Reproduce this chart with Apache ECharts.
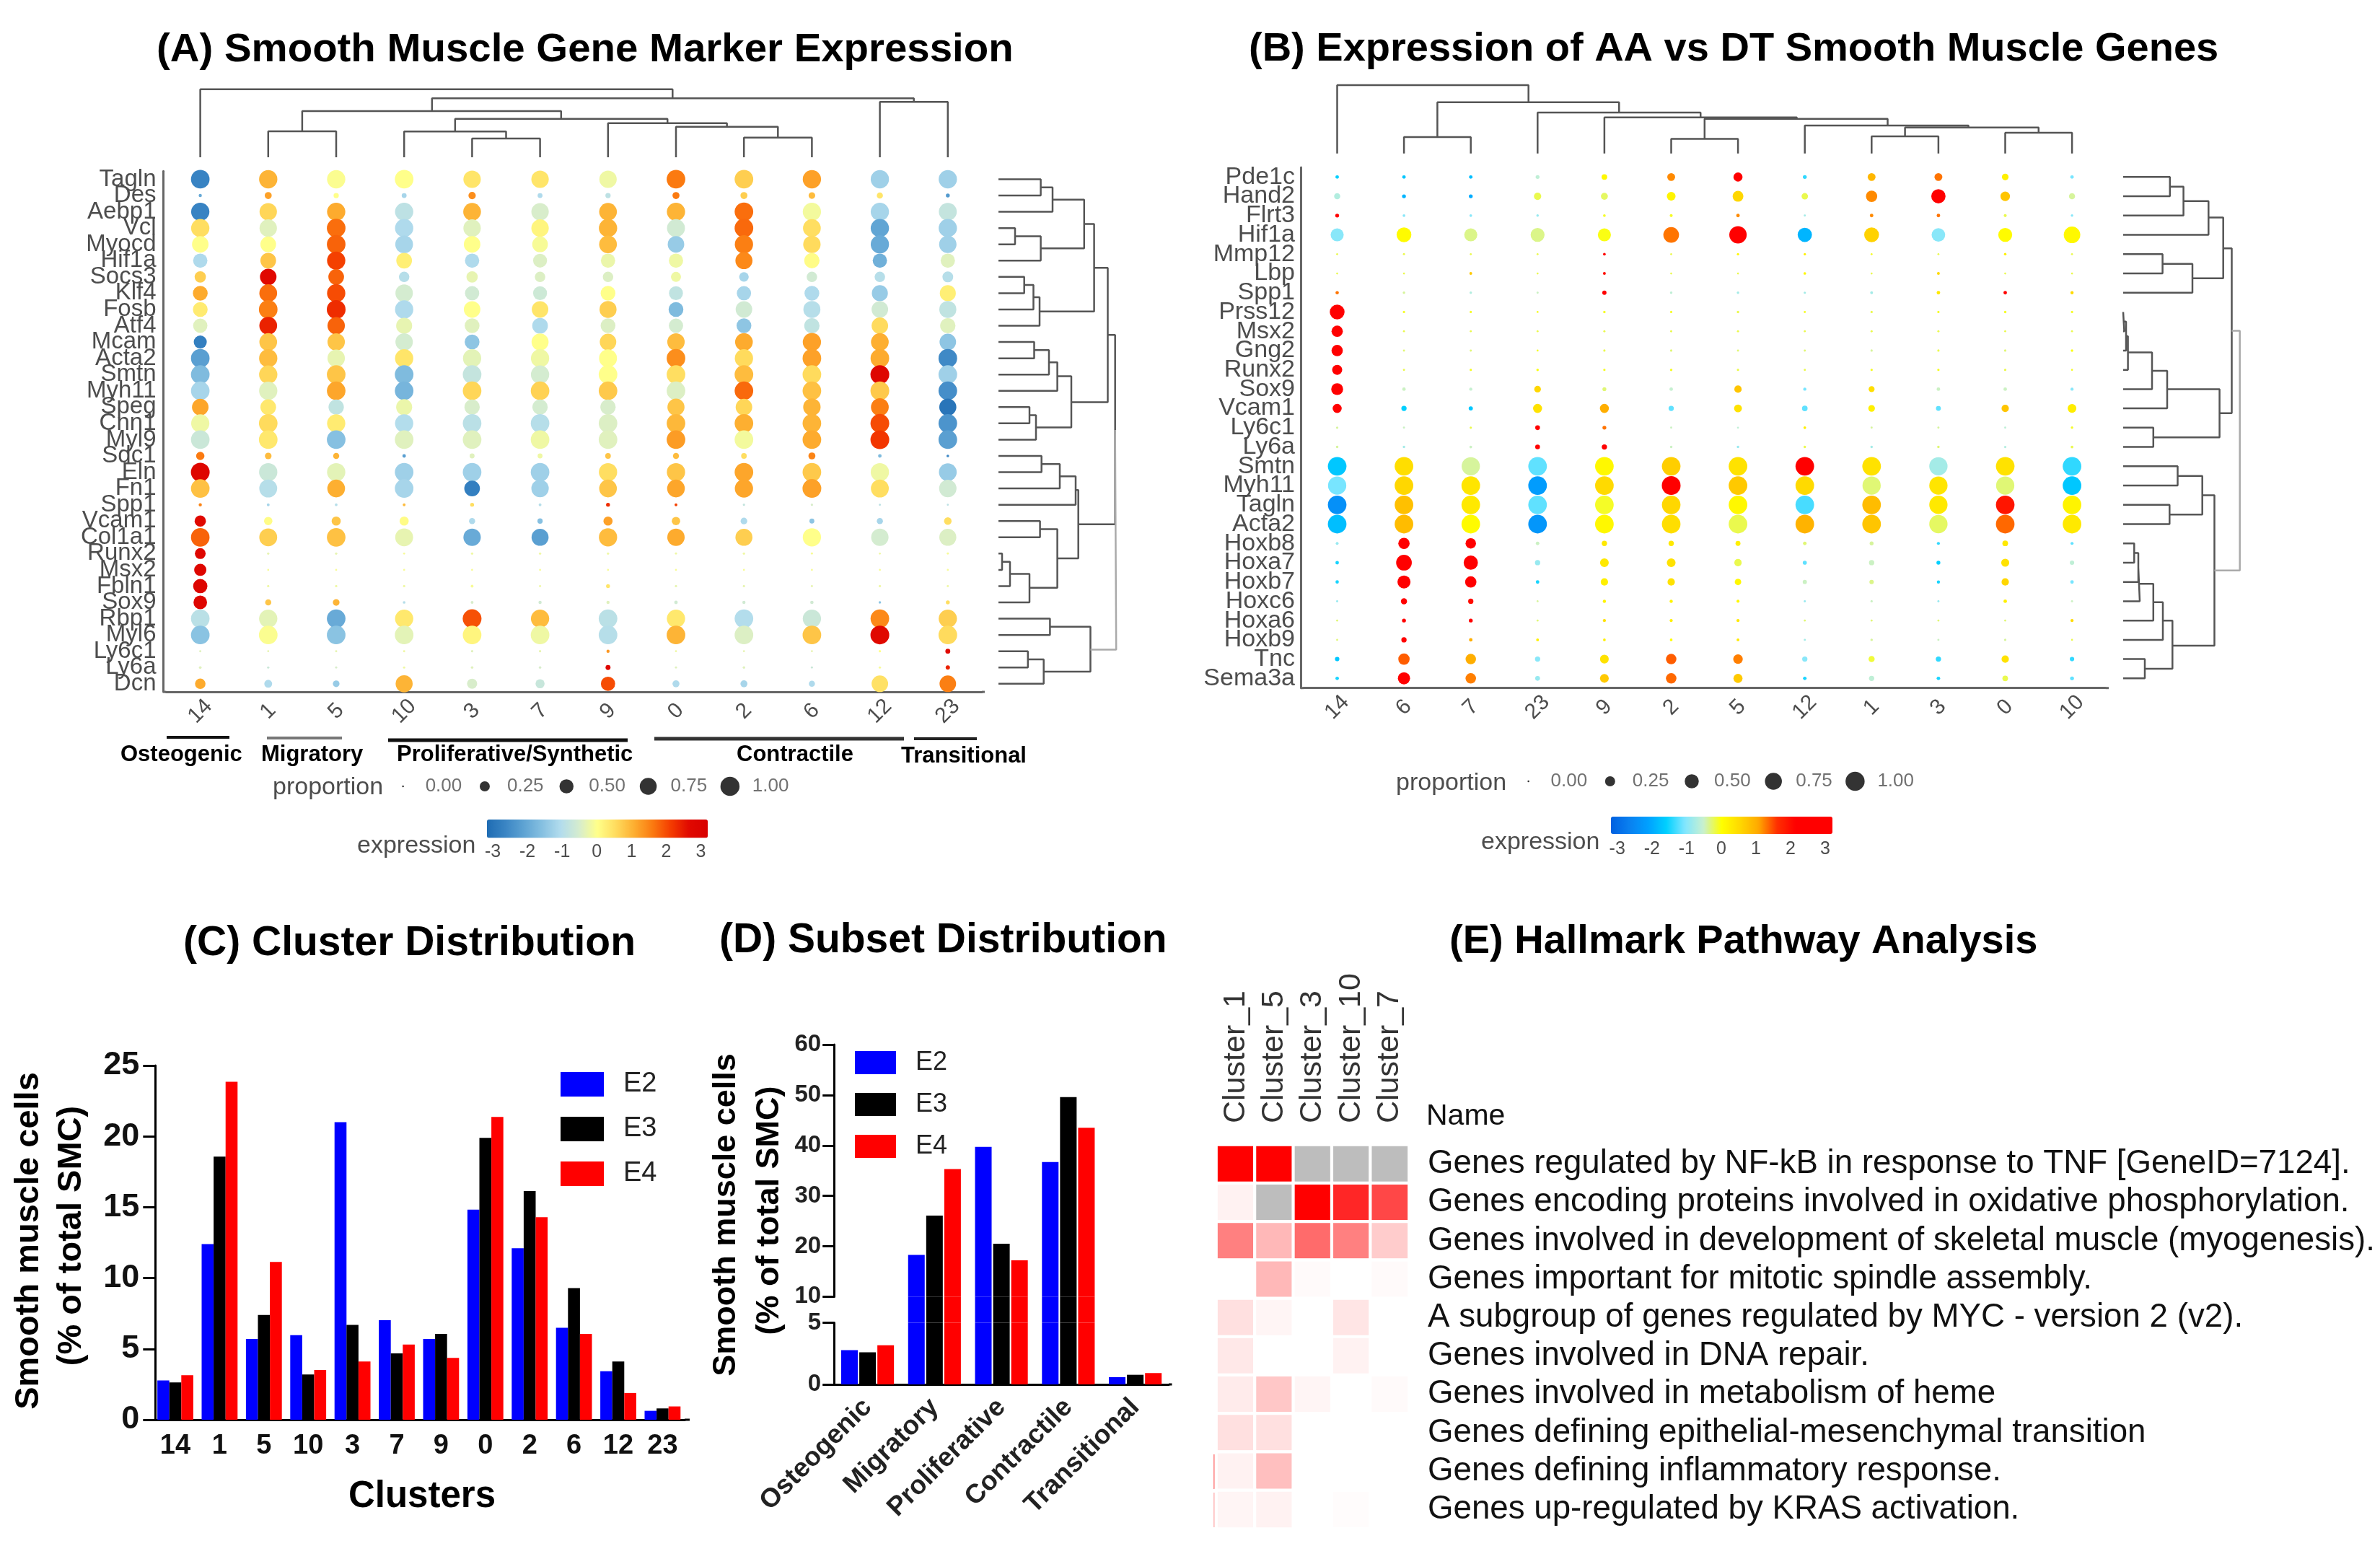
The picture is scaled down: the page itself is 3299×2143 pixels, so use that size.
<!DOCTYPE html>
<html>
<head>
<meta charset="utf-8">
<style>html,body{margin:0;padding:0;background:#fff}#c{width:3299px;height:2143px;filter:blur(0.7px)}</style>
<script src="https://cdn.jsdelivr.net/npm/echarts@6/dist/echarts.min.js"></script>
</head>
<body>
<div id="c"></div>
<script>
// ---------- Panel A ----------
const aClusters = ['14','1','5','10','3','7','9','0','2','6','12','23'];
const aGenes = ['Tagln','Des','Aebp1','Vcl','Myocd','Hif1a','Socs3','Klf4','Fosb','Atf4','Mcam','Acta2','Smtn','Myh11','Speg','Cnn1','Myl9','Sdc1','Eln','Fn1','Spp1','Vcam1','Col1a1','Runx2','Msx2','Fbln1','Sox9','Rbp1','Myl6','Ly6c1','Ly6a','Dcn'];
const aExpr = [
[-2.7,1,-0.05,0,0.4,0.4,-0.2,1.6,0.7,1.2,-1.3,-1.3],
[-2,1.2,0,-1.2,1.4,-1.1,-0.9,1.6,0.7,0.9,0.4,-2.3],
[-2.7,0.6,1.1,-0.9,1,-0.5,1,1,1.7,-0.15,-1.2,-0.8],
[0.5,-0.4,1.7,-1.1,-0.4,0.15,1,-0.6,1.75,0.5,-2.1,-1.3],
[0,0,1.8,-1.2,0,-0.1,0.9,-1.4,1.55,0.55,-2,-1.3],
[-1.1,0.8,2.1,0.25,-1.1,-0.45,-0.25,-0.2,1.45,0.05,-1.9,-0.4],
[0.7,2.7,1.8,-1,-0.3,-0.45,-0.45,-0.2,-1.2,-0.6,-1,-1],
[1.1,1.7,2,-0.55,-0.6,-0.65,0,-0.85,-1.2,-1.1,-1.4,0.25],
[0.3,1.55,2.3,-1.1,0,0.4,0.7,-1.7,-0.6,-1,-0.6,-0.85],
[-0.4,2.4,1.8,-0.3,-0.4,-1.1,-0.45,-0.55,-1.5,-0.85,0.55,-0.4],
[-2.8,0.8,0.8,-0.55,-1.5,0,0.6,0.9,1.1,1.2,1.05,-1.5],
[-2.2,0.9,-0.3,0.4,-0.35,-0.2,0,1.4,0.55,1.2,1.1,-2.6],
[-1.7,0.6,0.8,-1.7,-0.8,-0.55,0,0.5,0.9,0.55,2.8,-1.3],
[-1.2,-0.4,1.15,-1.8,0.6,0.65,0.75,-0.45,1.75,0.85,0.75,-2.5],
[1.15,0.35,-0.85,-0.25,-0.5,-0.55,-0.5,0.8,0.6,1,1.55,-3],
[-0.2,0.55,0.3,-1.05,-0.95,-1,-0.45,0.95,1.05,1,2,-2.4],
[-0.7,0.35,-1.6,-0.4,-0.4,-0.2,-0.4,1.25,-0.15,1.1,2.2,-2.2],
[1.6,0.9,1,-2.2,-0.4,-0.2,0.8,0.9,0.5,1.5,-1.7,-2.6],
[2.8,-0.7,-0.35,-1.3,-1.3,-1.3,0.5,0.8,1.15,0.75,-0.2,-1.4],
[0.85,-1,1.05,-1.2,-2.8,-1.3,0.8,1.15,1.15,1.2,0.5,-0.6],
[1.5,-1.2,-1,0.9,0.5,-1,2.3,2.1,-0.8,-0.5,-0.9,-0.9],
[2.7,0.05,0.8,0.05,-1.1,-1.6,1.2,0.8,-1.1,-1.5,-1.2,0.5],
[1.8,0.7,0.85,-0.3,-2,-2.2,0.9,1.1,0.7,0,-0.55,-0.45],
[2.8,-0.3,-0.3,-0.1,-0.2,-0.2,-0.2,-0.2,-0.2,-0.1,-0.2,-0.1],
[2.8,-0.1,-0.1,-0.1,-0.1,-0.1,-0.1,-0.1,-0.1,-0.1,-0.1,-0.1],
[2.85,-0.2,-0.2,-0.2,-0.1,-0.2,0.4,-0.3,-0.3,-0.3,-0.2,-0.2],
[2.8,0.8,1,-1,-0.5,-0.6,-0.4,-0.6,-0.6,-0.6,-1.5,0.5],
[-0.95,-0.35,-2,0.35,1.95,0.9,-0.95,0.35,-1.05,-0.7,1.45,0.7],
[-1.55,-0.05,-1.55,-0.35,0.15,-0.2,-1,1,-0.45,0.8,2.7,0.55],
[-0.4,-0.3,-0.3,-0.2,-0.4,-0.3,1.3,-0.2,-0.3,-0.3,0,2.7],
[-0.4,-0.7,-0.5,-0.2,-0.4,-0.5,2.8,-0.4,-0.4,-0.7,-0.1,2.4],
[1.1,-1.1,-1.4,1,-0.5,-0.75,2,-1.1,-1.2,-1.1,0.45,1.55]
];
// dot size, as a fraction of the largest dot
const aDot = [
[.97,.95,.95,.97,.9,.9,.9,.97,.97,.95,.95,.95],
[.08,.3,.2,.18,.32,.18,.2,.3,.3,.28,.25,.12],
[.95,.9,.95,.95,.92,.9,.92,.95,.97,.95,.95,.93],
[.95,.9,.97,.95,.9,.9,.95,.93,.97,.92,.95,.95],
[.85,.8,.97,.92,.85,.8,.92,.85,.95,.9,.95,.9],
[.72,.8,.95,.8,.72,.7,.72,.72,.88,.78,.72,.72],
[.55,.85,.8,.5,.55,.5,.5,.48,.45,.5,.5,.52],
[.75,.92,.95,.9,.72,.7,.75,.7,.72,.75,.82,.82],
[.75,.97,.98,.95,.85,.85,.88,.75,.85,.88,.85,.88],
[.72,.92,.9,.82,.75,.8,.75,.72,.75,.78,.85,.78],
[.65,.92,.9,.9,.75,.88,.85,.9,.92,.95,.92,.85],
[.97,.95,.9,.95,.95,.95,.93,.97,.95,.97,.97,.97],
[.97,.95,.97,.97,.97,.95,.97,.97,.97,.97,.98,.97],
[.97,.95,.97,.97,.97,.97,.97,.97,.97,.97,.98,.97],
[.85,.8,.78,.82,.78,.78,.78,.88,.85,.9,.92,.88],
[.95,.97,.95,.95,.97,.97,.97,.97,.97,.97,.98,.97],
[.97,.97,.97,.97,.97,.97,.97,.97,.97,.97,.98,.97],
[.38,.28,.25,.1,.18,.18,.22,.25,.22,.3,.1,.05],
[.98,.95,.95,.97,.97,.97,.95,.95,.97,.97,.95,.92],
[.97,.93,.92,.97,.8,.9,.92,.92,.95,.98,.93,.9],
[.08,.06,.05,.06,.12,.06,.12,.06,.03,.03,.02,.01],
[.55,.38,.42,.42,.25,.2,.42,.38,.28,.18,.25,.33],
[.97,.93,.97,.93,.9,.88,.95,.9,.88,.95,.9,.88],
[.52,.03,.03,.01,.03,.03,.03,.02,.03,.02,.01,.02],
[.6,.01,.01,.01,.01,.01,.01,.01,.01,.01,.01,.01],
[.72,.03,.03,.03,.06,.02,.12,.03,.03,.02,.03,.02],
[.68,.25,.28,.05,.06,.08,.08,.1,.08,.09,.04,.12],
[.97,.95,.97,.95,.98,.95,.97,.95,.97,.95,.97,.95],
[.97,.97,.97,.97,.97,.97,.97,.97,.97,.97,.98,.97],
[.02,.01,.02,.02,.03,.03,.08,.01,.01,.01,.03,.18],
[.05,.03,.02,.03,.04,.04,.18,.02,.04,.02,.03,.14],
[.5,.35,.28,.88,.48,.42,.72,.3,.3,.25,.85,.85]
];
// merges: [low position, low child height, high position, high child height, height]
const aColTree = [[0,0,6.95,81.7,94.3],[3.41,64,10.5,76.7,81.7],[10,0,11,0,76.7],[1.5,36,5.31,53.3,64],[1,0,2,0,36],[3.75,35.7,6.875,47.3,53.3],[3,0,4.5,26,35.7],[4,0,5,0,26],[6,0,7.75,42.3,47.3],[7,0,8.5,27.3,42.3],[8,0,9,0,27.3]];
const aRowTree = [[0,0,1,0,58.6],[0.5,58.6,2,0,75],[3,0,4,0,23],[3.5,23,5,0,58.6],[1.25,75,4.25,58.6,118.8],[6,0,7,0,35.7],[6.5,35.7,8,0,48.5],[7.25,48.5,9,0,57],[2.75,118.8,8.125,57,132.6],[10,0,11,0,49.5],[10.5,49.5,12,0,70],[11.25,70,13,0,81.6],[14,0,15,0,43],[14.5,43,16,0,52],[12.1,81.6,15.25,52,101],[5.44,132.6,13.7,101,151.5],[17,0,18,0,59.7],[17.5,59.7,19,0,85],[18.25,85,20,0,107],[21,0,22,0,57.6],[23,0,24,0,5],[23.5,5,25,0,16],[24.25,16,26,0,43],[21.5,57.6,25.1,43,81.6],[19.1,107,23.3,81.6,110.7],[27,0,28,0,71.4],[29,0,30,0,40.8],[29.5,40.8,31,0,62.7],[27.5,71.4,30.25,62.7,127.5],[9.57,151.5,21.2,110.7,161.7]];
const aRowRoot = [[15.4,161.7,28.9,127.5,163.2]];
const aSubsets = ['Osteogenic','Migratory','Proliferative/Synthetic','Contractile','Transitional'];

// ---------- Panel B ----------
const bClusters = ['14','6','7','23','9','2','5','12','1','3','0','10'];
const bGenes = ['Pde1c','Hand2','Flrt3','Hif1a','Mmp12','Lbp','Spp1','Prss12','Msx2','Gng2','Runx2','Sox9','Vcam1','Ly6c1','Ly6a','Smtn','Myh11','Tagln','Acta2','Hoxb8','Hoxa7','Hoxb7','Hoxc6','Hoxa6','Hoxb9','Tnc','Sema3a'];
const bExpr = [
[-1.6,-1.7,-1.8,-0.6,0.1,1.2,2.3,-1.4,0.9,1.3,0.2,-1.1],
[-0.7,-1.9,-2,-0.2,-0.25,0.15,0.55,-0.2,1.2,2.2,0.75,-0.4],
[2.4,-1,-1,-0.9,-0.1,-0.1,1.2,-0.8,1.2,1.3,-0.2,-1],
[-1,0.05,-0.35,-0.35,-0.05,1.3,2.3,-1.9,0.6,-1,0.05,0.1],
[-0.2,-0.2,-0.2,-0.2,2.1,-0.2,0.1,0.2,-0.1,-0.2,0.2,-0.2],
[-0.2,-0.2,0.7,-0.2,2,-0.2,-0.2,0.1,-0.2,0.5,-0.2,-0.2],
[1.3,-0.4,-0.7,-0.5,2.3,-0.6,-0.8,-0.8,-0.8,0.3,2.1,0.5],
[2.5,-0.1,-0.1,-0.1,-0.1,-0.1,-0.2,-0.1,-0.2,-0.1,-0.1,-0.1],
[2.5,-0.2,-0.2,-0.2,-0.2,-0.2,-0.2,-0.2,-0.2,-0.2,-0.2,-0.2],
[2.5,-0.3,-0.3,-0.1,-0.2,-0.3,-0.3,-0.3,-0.4,-0.2,-0.3,-0.05],
[2.5,-0.2,-0.1,-0.05,-0.1,-0.1,-0.2,-0.2,-0.1,-0.1,-0.2,-0.1],
[2.5,-0.5,-0.55,0.55,-0.3,-0.55,0.75,-1.1,0.45,-0.5,-0.5,-1],
[2.4,-1.6,-1.7,0.4,1,-1.2,0.4,-1.2,0.2,-1.2,0.75,0.25],
[-0.4,-0.5,-0.2,2.4,1.3,-0.5,-0.6,0.2,-0.4,-0.4,-0.6,-0.1],
[-0.4,-0.8,-0.5,2.5,2.5,-0.5,-0.9,-0.2,-0.8,-0.3,-0.7,-0.2],
[-1.7,0.45,-0.4,-1.2,0.1,0.65,0.4,2.3,0.4,-0.8,0.4,-1.4],
[-1.1,0.55,0.35,-2.2,0.5,2.2,0.7,0.5,-0.3,0.35,-0.3,-1.7],
[-2.4,0.8,0.3,-1.2,-0.1,0.55,0.1,-1.3,0.85,0.3,1.9,0.15],
[-1.8,0.85,0.05,-2.3,0.1,0.45,-0.2,0.95,0.75,-0.25,1.35,0.3],
[-0.9,2.4,2.4,-0.5,0.3,0.3,0.2,-0.3,-0.4,-1.4,0.3,-1.2],
[-1.5,2.5,2.5,-0.9,0.3,0.4,-0.2,-1.2,-0.5,-1.6,0.4,-0.6],
[-1.5,2.5,2.5,-1.5,0.2,0.4,0.1,-0.5,-0.35,-1.5,0.55,-1.1],
[-0.9,2.4,2,-0.4,0.15,0.15,0.1,-0.9,-0.5,-0.9,0.2,-0.5],
[-0.3,2.4,2.4,-0.3,0.4,0.2,0.3,-0.3,-0.3,-0.3,-0.3,0.5],
[-0.3,2.4,1,0.2,0.2,0,0.3,-0.8,-0.4,-0.5,-0.4,-0.2],
[-1.7,1.4,1,-1,0.4,1.4,1.25,-1,-0.15,-1.4,0.4,-1.4],
[-1.5,2.4,1.25,-0.9,0.7,1.35,0.7,-1.5,-0.6,-1.5,-0.2,-1.2]
];
const bDot = [
[.1,.1,.1,.12,.22,.35,.42,.12,.35,.35,.28,.1],
[.25,.12,.12,.32,.3,.4,.52,.27,.55,.72,.45,.25],
[.12,.05,.05,.04,.05,.07,.1,.02,.1,.1,.07,.04],
[.65,.75,.65,.7,.65,.8,.9,.72,.75,.68,.7,.85],
[.01,.02,.01,.01,.05,.01,.03,.03,.01,.01,.04,.01],
[.01,.01,.06,.01,.06,.01,.01,.05,.01,.06,.01,.01],
[.09,.04,.04,.02,.14,.04,.04,.03,.06,.1,.1,.08],
[.75,.03,.03,.01,.04,.03,.04,.02,.03,.03,.04,.03],
[.55,.01,.01,.01,.02,.02,.02,.01,.02,.02,.01,.01],
[.55,.02,.02,.01,.03,.03,.02,.02,.03,.03,.03,.04],
[.48,.02,.03,.04,.03,.04,.03,.02,.03,.03,.03,.01],
[.58,.1,.08,.28,.12,.1,.32,.08,.24,.1,.1,.08],
[.42,.2,.14,.42,.42,.2,.35,.22,.28,.18,.32,.4],
[.03,.02,.03,.17,.12,.02,.01,.05,.02,.02,.02,.04],
[.04,.04,.05,.17,.2,.04,.04,.04,.04,.04,.03,.05],
[.97,.97,.95,.97,.97,.97,.97,.97,.97,.95,.97,.97],
[.95,.97,.97,.97,.97,.98,.97,.97,.95,.95,.95,.97],
[.97,.97,.97,.97,.97,.97,.97,.97,.97,.95,.97,.97],
[.97,.97,.97,.97,.97,.97,.97,.97,.97,.95,.97,.97],
[.06,.55,.5,.1,.2,.2,.18,.1,.12,.07,.22,.07],
[.1,.8,.72,.2,.4,.4,.32,.13,.2,.12,.36,.15],
[.09,.65,.55,.1,.32,.32,.27,.14,.15,.08,.32,.1],
[.02,.25,.2,.01,.08,.08,.07,.02,.03,.02,.1,.02],
[.01,.12,.12,.01,.07,.07,.07,.01,.01,.01,.01,.07],
[.01,.2,.1,.06,.05,.05,.06,.02,.04,.02,.03,.01],
[.15,.55,.5,.2,.4,.5,.45,.2,.25,.2,.32,.15],
[.1,.6,.5,.17,.4,.5,.42,.1,.2,.1,.22,.12]
];
const bColTree = [[0,0,2.864,71,94.7],[1.5,22.7,4.22,56.7,71],[1,0,2,0,22.7],[3,0,5.44,50,56.7],[4,0,6.88,48,50],[5.5,20.3,8.24,38.7,48],[5,0,6,0,20.3],[7,0,9.45,36,38.7],[8.5,23.7,10.5,28.7,36],[8,0,9,0,23.7],[10,0,11,0,28.7]];
const bRowTree = [[0,0,1,0,64.8],[0.5,64.8,2,0,83.6],[1.25,83.6,3,0,118.3],[4,0,5,0,54.6],[4.5,54.6,6,0,96],[2.1,118.3,5.25,96,138.7],[7,0,8,0,1.5],[7.5,1.5,9,0,4],[8.25,4,10,0,6.6],[9.1,6.6,11,0,40],[10.05,40,12,0,61],[13,0,14,0,41.8],[11,61,13.5,41.8,133.6],[3.7,138.7,12.25,133.6,150.5],[15,0,16,0,75.5],[17,0,18,0,64.3],[15.5,75.5,17.5,64.3,109.7],[19,0,20,0,15.3],[19.5,15.3,21,0,21],[20.25,21,22,0,23],[21.1,23,23,0,41.8],[22.05,41.8,24,0,55],[25,0,26,0,30],[23,55,25.5,30,68.3],[16.5,109.7,24.3,68.3,126.5]];
const bRowRoot = [[7.97,150.5,20.4,126.5,161.7]];

// ---------- Legends ----------
// key dots on the same fraction-of-largest-dot scale as aDot / bDot
const sizeKeys = [0,.48,.71,.875,1];
const sizeKeyLabels = ['0.00','0.25','0.50','0.75','1.00'];
const aPalette = ['#1f6cb3','#3a85c4','#5ea3d3','#86c0e1','#b2dced','#d5eccf','#ffff8a','#ffdc5e','#fdae30','#fb7a10','#f43c00','#e00800','#d80000'];
const bPalette = ['#0060e0','#0a80f0','#00a0ff','#00d0ff','#80e6ff','#c8f0d0','#ffff00','#ffd800','#ffa800','#ff3000','#ff0000','#ff0000','#ff0000'];

// ---------- Panel C ----------
const cClusters = ['14','1','5','10','3','7','9','0','2','6','12','23'];
const cE2 = [2.77,12.4,5.7,5.97,21,7.03,5.7,14.83,12.1,6.49,3.43,0.63];
const cE3 = [2.63,18.57,7.4,3.2,6.69,4.69,6.06,19.9,16.14,9.29,4.11,0.8];
const cE4 = [3.14,23.86,11.14,3.51,4.11,5.31,4.37,21.37,14.29,6.06,1.89,0.94];

// ---------- Panel D ----------
const dSubsets = ['Osteogenic','Migratory','Proliferative','Contractile','Transitional'];
const dE2 = [2.78,18.27,39.7,36.7,0.59];
const dE3 = [2.6,26.1,20.5,49.6,0.78];
const dE4 = [3.17,35.3,17.2,43.5,0.92];

// ---------- Panel E (GRAY = not available) ----------
const GRAY = -1;
const eClusters = ['Cluster_1','Cluster_5','Cluster_3','Cluster_10','Cluster_7'];
const ePathways = ['Genes regulated by NF-kB in response to TNF [GeneID=7124].','Genes encoding proteins involved in oxidative phosphorylation.','Genes involved in development of skeletal muscle (myogenesis).','Genes important for mitotic spindle assembly.','A subgroup of genes regulated by MYC - version 2 (v2).','Genes involved in DNA repair.','Genes involved in metabolism of heme','Genes defining epithelial-mesenchymal transition','Genes defining inflammatory response.','Genes up-regulated by KRAS activation.'];
const eValues = [
[1,1,GRAY,GRAY,GRAY],
[.05,GRAY,1,.85,.72],
[.5,.28,.58,.5,.2],
[0,.28,.02,0,.02],
[.12,.04,0,.1,0],
[.09,0,0,.05,0],
[.08,.22,.04,0,.02],
[.12,.12,0,0,0],
[.05,.25,0,0,0],
[.04,.05,0,.01,0]
];

// ---------- Build ----------
const FONT = '"Liberation Sans", Arial, sans-serif';
const GREY = '#4d4d4d';
const grid = [], xAxis = [], yAxis = [], series = [], gfx = [];
function addGrid(g, x, y){
  grid.push({left:g.left,width:g.width,top:g.top,height:g.height,containLabel:false});
  const i = grid.length - 1;
  xAxis.push(Object.assign({gridIndex:i}, x));
  yAxis.push(Object.assign({gridIndex:i}, y));
  return i;
}
const hiddenVal = (min,max,extra)=>Object.assign({type:'value',show:false,min,max,splitLine:{show:false}},extra||{});
function txt(text,x,y,size,o){
  o=o||{};
  gfx.push({type:'text',x,y,rotation:o.rot||0,silent:true,style:{text,x:0,y:0,fontSize:size,fontWeight:o.bold?'bold':'normal',fontFamily:FONT,fill:o.fill||'#000',align:o.align||'left',verticalAlign:'middle'}});
}
function seg(x1,y1,x2,y2,stroke,w){
  gfx.push({type:'line',silent:true,shape:{x1,y1,x2,y2},style:{stroke,lineWidth:w,lineCap:'butt'}});
}
function treePath(tree, flip){
  const pts=[];
  tree.forEach(m=>{
    const [a,ha,b,hb,h]=m;
    const p=[[a,ha],[a,h],[b,h],[b,hb]];
    p.forEach(q=>pts.push(flip?[q[1],q[0]]:q));
    pts.push(['-','-']);
  });
  return pts;
}
function addTree(gi,tree,flip,color,w){
  series.push({type:'line',xAxisIndex:gi,yAxisIndex:gi,data:treePath(tree,flip),symbol:'none',showSymbol:false,silent:true,connectNulls:false,clip:false,lineStyle:{color,width:w},emphasis:{disabled:true}});
}
const dotSize = p => 2.5 + 24*p;
function dotPanel(g, cols, rows, expr, dot){
  const gi = addGrid(g,
    {type:'category',data:cols,boundaryGap:true,axisLine:{lineStyle:{color:'#666',width:3}},axisTick:{alignWithLabel:true,length:5,lineStyle:{color:'#666',width:2.5}},axisLabel:{rotate:45,interval:0,color:GREY,fontSize:30,fontFamily:FONT,align:'center',verticalAlign:'middle',margin:g.xMargin},splitLine:{show:false}},
    {type:'category',data:rows,inverse:true,offset:g.yOff,boundaryGap:true,axisLine:{lineStyle:{color:'#666',width:3}},axisTick:{alignWithLabel:true,length:5,lineStyle:{color:'#666',width:2.5}},axisLabel:{interval:0,color:GREY,fontSize:g.labelSize,fontFamily:FONT,margin:g.yMargin},splitLine:{show:false}});
  const data=[];
  rows.forEach((r,ri)=>cols.forEach((c,ci)=>data.push([ci,ri,expr[ri][ci],dot[ri][ci]])));
  series.push({type:'scatter',xAxisIndex:gi,yAxisIndex:gi,data,symbol:'circle',symbolSize:v=>dotSize(v[3]),silent:true,clip:false,encode:{x:0,y:1},itemStyle:{opacity:1}});
  return series.length-1;
}
function sizeLegend(left,spacing,top,offs){
  const gi=addGrid({left,width:spacing*5,top:top-15,height:30},
    {type:'category',show:false,data:sizeKeyLabels},hiddenVal(0,2));
  series.push({type:'scatter',xAxisIndex:gi,yAxisIndex:gi,silent:true,clip:false,symbol:'circle',
    data:sizeKeys.map((p,i)=>({value:[i,1,p],label:{show:true,formatter:sizeKeyLabels[i],position:'inside',offset:[offs,0],align:'left',color:GREY,fontSize:26,fontFamily:FONT}})),
    symbolSize:v=>dotSize(v[2]),itemStyle:{color:'#000'}});
}
function colourTicks(left,width,top){
  addGrid({left,width,top,height:1},
    {type:'value',min:-3,max:3,interval:1,axisLine:{show:false},axisTick:{show:false},splitLine:{show:false},axisLabel:{color:GREY,fontSize:25,fontFamily:FONT,margin:8}},
    hiddenVal(0,1));
}

// Panel A
const aIdx = dotPanel({left:230.5,width:1130.4,top:237.2,height:721.9,yOff:4,labelSize:33,xMargin:27,yMargin:10},aClusters,aGenes,aExpr,aDot);
let gi = addGrid({left:230.5,width:1130.4,top:118,height:100},hiddenVal(-0.5,11.5),hiddenVal(0,100));
addTree(gi,aColTree,false,'#555',2.5);
gi = addGrid({left:1384,width:180,top:237.2,height:721.9},hiddenVal(0,180),hiddenVal(-0.5,31.5,{inverse:true}));
addTree(gi,aRowTree,true,'#555',2.5);
addTree(gi,aRowRoot,true,'#aaa',2.5);
sizeLegend(502,113.3,1090,31);
colourTicks(683,288.5,1160);

// Panel B
const bIdx = dotPanel({left:1807.2,width:1111.2,top:232,height:721.7,yOff:3.7,labelSize:34,xMargin:27,yMargin:8.5},bClusters,bGenes,bExpr,bDot);
gi = addGrid({left:1807.2,width:1111.2,top:112.7,height:100},hiddenVal(-0.5,11.5),hiddenVal(0,100));
addTree(gi,bColTree,false,'#555',2.5);
gi = addGrid({left:2943,width:180,top:232,height:721.7},hiddenVal(0,180),hiddenVal(-0.5,26.5,{inverse:true}));
addTree(gi,bRowTree,true,'#555',2.5);
addTree(gi,bRowRoot,true,'#aaa',2.5);
sizeLegend(2062,113.2,1083,31);
colourTicks(2241.7,288.3,1156);

// Panel C
const BLACKAX = {lineStyle:{color:'#000',width:3}};
const cG = addGrid({left:212.3,width:736.8,top:1477,height:491},
  {type:'category',data:cClusters,axisLine:BLACKAX,axisTick:{alignWithLabel:true,length:15,lineStyle:{color:'#000',width:3}},axisLabel:{interval:0,color:'#111',fontSize:38,fontWeight:'bold',fontFamily:FONT,margin:18}},
  {type:'value',min:0,max:25,interval:5,offset:-3,axisLine:Object.assign({show:true},BLACKAX),axisTick:{show:true,length:17,lineStyle:{color:'#000',width:3}},splitLine:{show:false},axisLabel:{color:'#111',fontSize:45,fontWeight:'bold',fontFamily:FONT,margin:22}});
[['E2',cE2,'#0000ff'],['E3',cE3,'#000000'],['E4',cE4,'#ff0000']].forEach(s=>{
  series.push({type:'bar',name:s[0],xAxisIndex:cG,yAxisIndex:cG,data:s[1],barWidth:16.6,barGap:'0%',silent:true,itemStyle:{color:s[2]}});
});

// Panel D: broken axis, same values in three stacked windows
const dFrag = [
  {top:1448,height:349.4,min:10,max:60,interval:10,axes:true,x:false},
  {top:1797.4,height:36.1,min:5,max:10,interval:5,axes:false,x:false},
  {top:1833.5,height:85.5,min:0,max:5,interval:5,axes:true,x:true}
];
dFrag.forEach(f=>{
  const g = addGrid({left:1156.2,width:463.8,top:f.top,height:f.height},
    {type:'category',data:dSubsets,show:f.x,axisLine:BLACKAX,axisTick:{alignWithLabel:true,length:15,lineStyle:{color:'#000',width:3}},axisLabel:{interval:0,rotate:45,color:'#222',fontSize:37,fontWeight:'bold',fontFamily:FONT,margin:26}},
    {type:'value',show:f.axes,min:f.min,max:f.max,interval:f.interval,axisLine:Object.assign({show:true},BLACKAX),axisTick:{show:true,length:16,lineStyle:{color:'#000',width:3}},splitLine:{show:false},axisLabel:{color:'#222',fontSize:33,fontWeight:'bold',fontFamily:FONT,margin:18}});
  [['E2',dE2,'#0000ff'],['E3',dE3,'#000000'],['E4',dE4,'#ff0000']].forEach(s=>{
    series.push({type:'bar',name:s[0],xAxisIndex:g,yAxisIndex:g,data:s[1],barWidth:23,barGap:'9%',silent:true,clip:true,itemStyle:{color:s[2]}});
  });
});

// Panel E
const eG = addGrid({left:1686,width:267,top:1587,height:532},
  {type:'category',position:'top',data:eClusters,axisLine:{show:false},axisTick:{show:false},axisLabel:{interval:0,rotate:-90,color:'#333',fontSize:43,fontFamily:FONT,margin:30}},
  {type:'category',position:'right',inverse:true,data:ePathways,axisLine:{show:false},axisTick:{show:false},axisLabel:{interval:0,color:'#111',fontSize:45.7,fontFamily:FONT,margin:26}});
const eData=[];
ePathways.forEach((p,r)=>eClusters.forEach((c,k)=>eData.push([k,r,eValues[r][k]])));
series.push({type:'heatmap',xAxisIndex:eG,yAxisIndex:eG,data:eData,silent:true,itemStyle:{borderColor:'#fff',borderWidth:4.2},emphasis:{disabled:true}});
const eIdx = series.length-1;

// Annotations
const lbl = (t,x,y)=>txt(t,x,y,31,{bold:true});
lbl(aSubsets[0],167,1046); lbl(aSubsets[1],362,1046); lbl(aSubsets[2],550,1046); lbl(aSubsets[3],1021,1046); lbl(aSubsets[4],1249,1048);
seg(231,1022,318,1022,'#111',4); seg(370,1023,474,1023,'#777',4); seg(538,1026,870,1026,'#111',5); seg(907,1024,1253,1024,'#333',5); seg(1267,1024,1354,1024,'#222',4);
txt('proportion',378,1092,34,{fill:GREY}); txt('expression',495,1173,34,{fill:GREY});
txt('proportion',1935,1086,34,{fill:GREY}); txt('expression',2053,1168,34,{fill:GREY});
seg(226.5,959.1,230.5,959.1,'#666',3); seg(1360.9,959.1,1365,959.1,'#666',3);
seg(1803.5,953.7,1807.2,953.7,'#666',3); seg(2918.4,953.7,2923,953.7,'#666',3);
seg(949,1968,956,1968,'#000',3); seg(1620,1919,1624.5,1919,'#000',3);
seg(1684,2016,1684,2064,'#f88',4); seg(1684,2069,1684,2117,'#fbb',4);
txt('Smooth muscle cells',40,1720,47,{bold:true,rot:Math.PI/2,align:'center'});
txt('(% of total SMC)',99,1713,47,{bold:true,rot:Math.PI/2,align:'center'});
txt('Clusters',585,2075,51,{bold:true,align:'center'});
txt('Smooth muscle cells',1007,1684,45,{bold:true,rot:Math.PI/2,align:'center'});
txt('(% of total SMC)',1067,1678,45,{bold:true,rot:Math.PI/2,align:'center'});
txt('Name',1977,1548,41,{fill:'#111'});

const titleItem=(text,left,top,size)=>({text,left,top,padding:0,textStyle:{fontFamily:FONT,fontWeight:'bold',fontSize:size,color:'#000'}});
const legendItem=(left,top,w,h,gap,size,pad)=>({data:['E2','E3','E4'],orient:'vertical',left,top,padding:0,itemWidth:w,itemHeight:h,itemGap:gap,icon:'rect',selectedMode:false,textStyle:{fontFamily:FONT,fontSize:size,color:'#222',padding:[0,0,0,pad]}});

const option = {
  animation:false,
  backgroundColor:'#fff',
  textStyle:{fontFamily:FONT},
  tooltip:{show:false},
  title:[
    titleItem('(A) Smooth Muscle Gene Marker Expression',217,41,56.4),
    titleItem('(B) Expression of AA vs DT Smooth Muscle Genes',1731,41,56),
    titleItem('(C) Cluster Distribution',254,1280,57),
    titleItem('(D) Subset Distribution',997,1276,57),
    titleItem('(E) Hallmark Pathway Analysis',2009,1278,56)
  ],
  legend:[legendItem(777,1484,60,34,24,38,22),legendItem(1185,1455,57,32,22,36,22)],
  visualMap:[
    {type:'continuous',seriesIndex:aIdx,dimension:2,min:-3.2,max:3.2,orient:'horizontal',left:675,top:1136,itemWidth:25.6,itemHeight:306,padding:0,calculable:false,text:null,realtime:false,hoverLink:false,inRange:{color:aPalette}},
    {type:'continuous',seriesIndex:bIdx,dimension:2,min:-3.2,max:3.2,orient:'horizontal',left:2233,top:1132,itemWidth:24,itemHeight:307,padding:0,calculable:false,text:null,realtime:false,hoverLink:false,inRange:{color:bPalette}},
    {type:'continuous',show:false,seriesIndex:eIdx,dimension:2,min:-1,max:1,inRange:{color:['#bdbdbd','#ffffff','#ff0000']}}
  ],
  grid,xAxis,yAxis,series,
  graphic:{elements:gfx}
};
const chart = echarts.init(document.getElementById('c'),null,{width:3299,height:2143});
chart.setOption(option);
</script>
</body>
</html>
